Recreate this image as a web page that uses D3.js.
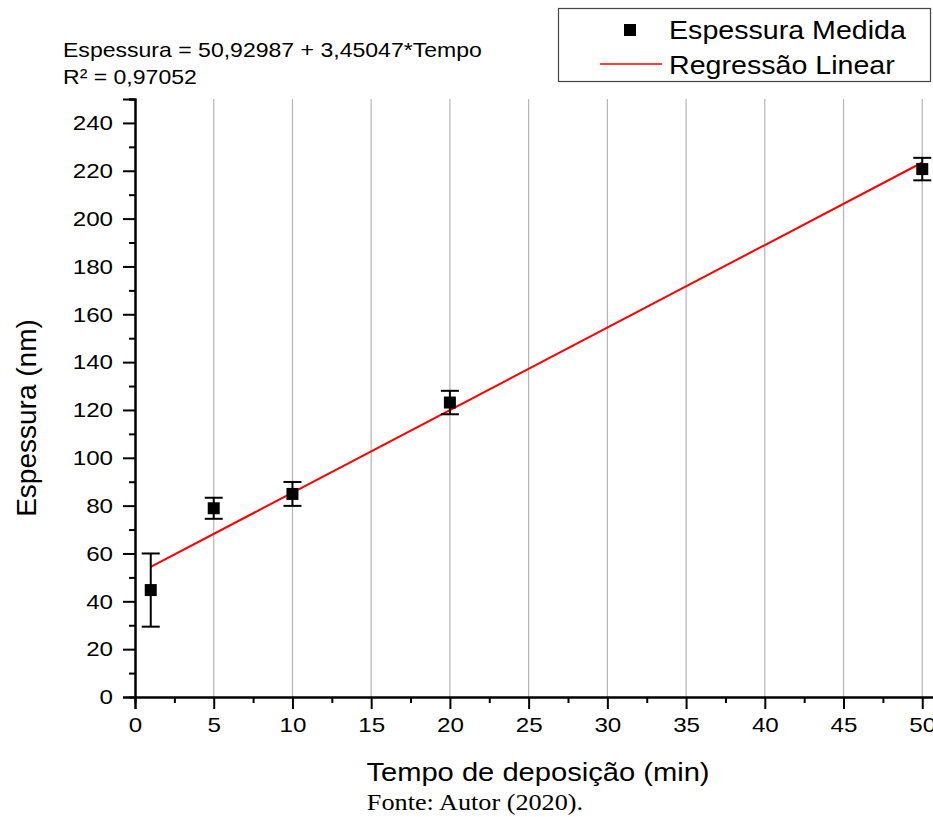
<!DOCTYPE html>
<html>
<head>
<meta charset="utf-8">
<script src="https://cdn.jsdelivr.net/npm/d3@7"></script>
<style>
  html, body { margin: 0; padding: 0; background: #fff; }
  svg { display: block; }
  text { font-family: "Liberation Sans", Arial, sans-serif; fill: #000; }
</style>
</head>
<body>
<svg id="chart" width="933" height="817"></svg>
<script>
// Deposition time (min) and measured film thickness (nm) with error
const tempo = [1, 5, 10, 20, 50];
const espessura = [44.7, 78.9, 84.9, 123.1, 220.7];
const erro = [15.3, 4.4, 5.0, 4.9, 4.7];

// Linear fit reported by the regression
const intercept = 50.92987;
const slope = 3.45047;
const r2Label = "R² = 0,97052";
const eqLabel = "Espessura = 50,92987 + 3,45047*Tempo";

const xTicks = [0, 5, 10, 15, 20, 25, 30, 35, 40, 45, 50];
const yTicks = [0, 20, 40, 60, 80, 100, 120, 140, 160, 180, 200, 220, 240];

const svg = d3.select("#chart");

// widen glyphs horizontally by factor k, keeping the anchor
function widen(sel, k) {
  sel.each(function () {
    const len = this.getComputedTextLength();
    this.setAttribute("textLength", len * k);
    this.setAttribute("lengthAdjust", "spacingAndGlyphs");
  });
}

const x = d3.scaleLinear().domain([0, 51]).range([135, 938]);
const y = d3.scaleLinear().domain([0, 250]).range([697, 99]);

// vertical grid
svg.append("g").selectAll("line")
  .data(xTicks.filter(d => d > 0))
  .join("line")
  .attr("x1", d => x(d)).attr("x2", d => x(d))
  .attr("y1", y(250)).attr("y2", y(0))
  .attr("stroke", "#b4b4b4").attr("stroke-width", 1.2);

// regression line
const fitX = [tempo[0], tempo[tempo.length - 1]];
svg.append("line")
  .attr("x1", x(fitX[0])).attr("y1", y(intercept + slope * fitX[0]))
  .attr("x2", x(fitX[1])).attr("y2", y(intercept + slope * fitX[1]))
  .attr("stroke", "#ff0000").attr("stroke-width", 2);

// error bars
const eb = svg.append("g").attr("stroke", "#000").attr("stroke-width", 2);
tempo.forEach((t, i) => {
  const cx = x(t), top = y(espessura[i] + erro[i]), bot = y(espessura[i] - erro[i]);
  eb.append("line").attr("x1", cx).attr("x2", cx).attr("y1", top).attr("y2", bot);
  eb.append("line").attr("x1", cx - 9).attr("x2", cx + 9).attr("y1", top).attr("y2", top);
  eb.append("line").attr("x1", cx - 9).attr("x2", cx + 9).attr("y1", bot).attr("y2", bot);
});

// measured points
const sq = 12;
svg.append("g").selectAll("rect")
  .data(tempo)
  .join("rect")
  .attr("x", (d) => x(d) - sq / 2)
  .attr("y", (d, i) => y(espessura[i]) - sq / 2)
  .attr("width", sq).attr("height", sq)
  .attr("fill", "#000");

// axes
const xAxis = d3.axisBottom(x).tickValues(xTicks).tickSize(12).tickPadding(8).tickFormat(d3.format("d"));
const xMinor = d3.axisBottom(x).tickValues(d3.range(2.5, 51, 5)).tickSize(6).tickFormat("");
const yAxis = d3.axisLeft(y).tickValues(yTicks).tickSize(12).tickPadding(10).tickFormat(d3.format("d"));
const yMinor = d3.axisLeft(y).tickValues(d3.range(10, 251, 20)).tickSize(6).tickFormat("");

function styleAxis(g) {
  g.select(".domain").attr("stroke", "#000").attr("stroke-width", 2);
  g.selectAll(".tick line").attr("stroke", "#000").attr("stroke-width", 2);
  g.selectAll(".tick text").style("font-size", "21px").attr("fill", "#000");
}

svg.append("g").attr("transform", `translate(0,${y(0)})`).call(xMinor).call(styleAxis);
svg.append("g").attr("transform", `translate(0,${y(0)})`).call(xAxis).call(styleAxis)
  .selectAll(".tick text").call(widen, 1.15);
svg.append("g").attr("transform", `translate(${x(0)},0)`).call(yMinor).call(styleAxis);
svg.append("g").attr("transform", `translate(${x(0)},0)`).call(yAxis).call(styleAxis)
  .selectAll(".tick text").call(widen, 1.15);

// axis titles
svg.append("text")
  .attr("x", 538).attr("y", 781)
  .attr("text-anchor", "middle")
  .style("font-size", "26px")
  .text("Tempo de deposição (min)")
  .call(widen, 1.12);

svg.append("text")
  .attr("transform", "translate(36,418) rotate(-90)")
  .attr("text-anchor", "middle")
  .style("font-size", "28px")
  .text("Espessura (nm)");

// source note
svg.append("text")
  .attr("x", 475).attr("y", 810)
  .attr("text-anchor", "middle")
  .style("font-family", "'Liberation Serif', 'Times New Roman', serif")
  .style("font-size", "23px")
  .text("Fonte: Autor (2020).")
  .call(widen, 1.14);

// fit equation
svg.append("text").attr("x", 63).attr("y", 57).style("font-size", "21px").text(eqLabel).call(widen, 1.097);
svg.append("text").attr("x", 63).attr("y", 84).style("font-size", "21px").text(r2Label).call(widen, 1.097);

// legend
const lg = svg.append("g");
lg.append("rect")
  .attr("x", 558.5).attr("y", 8.5).attr("width", 372).attr("height", 73)
  .attr("fill", "#fff").attr("stroke", "#444").attr("stroke-width", 1.2);
lg.append("rect").attr("x", 624).attr("y", 24).attr("width", 12).attr("height", 12).attr("fill", "#000");
lg.append("text").attr("x", 669).attr("y", 39).style("font-size", "26px").text("Espessura Medida").call(widen, 1.1);
lg.append("line").attr("x1", 600).attr("x2", 662).attr("y1", 64).attr("y2", 64)
  .attr("stroke", "#ff0000").attr("stroke-width", 1.5);
lg.append("text").attr("x", 669).attr("y", 74).style("font-size", "26px").text("Regressão Linear").call(widen, 1.1);
</script>
</body>
</html>
